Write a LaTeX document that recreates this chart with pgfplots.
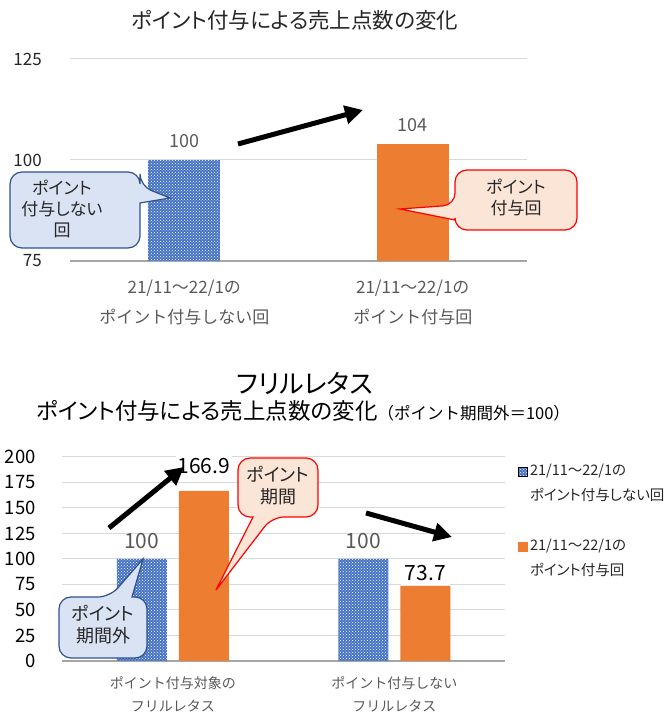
\documentclass[border=0pt]{standalone}
\usepackage{pgfplots}
\pgfplotsset{compat=1.18}
\usepackage{fontspec}
\setmainfont{Noto Sans CJK JP}[RawFeature=+palt]
\newfontfamily\jpfw{Noto Sans CJK JP}
\usetikzlibrary{patterns,arrows.meta}
\definecolor{barblue}{HTML}{4472C4}
\definecolor{barorange}{HTML}{ED7D31}
\definecolor{callblue}{HTML}{DAE3F3}
\definecolor{callblueedge}{HTML}{2F528F}
\definecolor{callorange}{HTML}{FBE5D6}
\definecolor{gridgray}{HTML}{D9D9D9}
\definecolor{axisgray}{HTML}{A6A6A6}
\definecolor{labelgray}{HTML}{595959}
\definecolor{tickdark}{HTML}{262626}
\begin{document}
\begin{tikzpicture}[x=1pt,y=1pt]
\useasboundingbox (0,0) rectangle (668,714);
% ---------------- top chart ----------------
\begin{axis}[
  at={(70pt,453pt)}, anchor=south west, scale only axis,
  width=457pt, height=202pt,
  xmin=-0.5, xmax=1.5, ymin=75, ymax=125,
  xtick={0,1}, ytick={75,100,125},
  xticklabels={{21/11～22/1の\\ポイント付与しない回},{21/11～22/1の\\ポイント付与回}},
  xticklabel style={align=center, anchor=north, inner sep=0pt, yshift=-19pt,
    font=\jpfw\fontsize{17}{30}\selectfont, text=labelgray},
  yticklabel style={anchor=east, inner sep=0pt, xshift=-28pt,
    font=\fontsize{17}{20}\selectfont, text=tickdark},
  /pgf/number format/assume math mode=true,
  major tick length=0pt,
  axis x line=bottom, axis y line=left,
  x axis line style={-, draw=axisgray, line width=1.3pt},
  y axis line style={draw=none},
  ymajorgrids, grid style={draw=gridgray, line width=1pt},
  clip=false,
]
\addplot[ybar, bar width=72pt, bar shift=0pt, draw=none, fill=barblue,
  postaction={pattern=crosshatch dots, pattern color=white}] coordinates {(0,100)};
\addplot[ybar, bar width=72pt, bar shift=0pt, draw=none, fill=barorange] coordinates {(1,104)};
\addplot[draw=none, mark=none, nodes near coords, point meta=y,
  nodes near coords style={font=\fontsize{18}{20}\selectfont, text=labelgray, anchor=center, yshift=19pt}]
  coordinates {(0,100) (1,104)};
\end{axis}
% ---------------- bottom chart ----------------
\begin{axis}[
  at={(62pt,53pt)}, anchor=south west, scale only axis,
  width=443pt, height=204pt,
  xmin=-0.5, xmax=1.5, ymin=0, ymax=200,
  xtick={0,1}, ytick={0,25,...,200},
  xticklabels={{ポイント付与対象の\\フリルレタス},{ポイント付与しない\\フリルレタス}},
  xticklabel style={align=center, anchor=north, inner sep=0pt, yshift=-15pt,
    font=\jpfw\fontsize{14}{23}\selectfont, text=labelgray},
  yticklabel style={anchor=east, inner sep=0pt, xshift=-26pt,
    font=\fontsize{18.5}{20}\selectfont, text=black},
  /pgf/number format/assume math mode=true,
  major tick length=0pt,
  axis x line=bottom, axis y line=left,
  x axis line style={-, draw=axisgray, line width=1.3pt},
  y axis line style={draw=none},
  ymajorgrids, grid style={draw=gridgray, line width=1pt},
  clip=false,
  legend style={at={(rel axis cs:1.028,0.966)}, anchor=north west, draw=none, fill=none,
    inner sep=0pt, row sep=11pt, column sep=3pt,
    nodes={inner sep=0pt, font=\fontsize{14.5}{15}\selectfont, text=tickdark, text height=11pt, text depth=3pt}},
  legend cell align=left,
]
\addplot[ybar, bar width=50pt, bar shift=-31pt, draw=none, fill=barblue,
  postaction={pattern=crosshatch dots, pattern color=white}, forget plot] coordinates {(0,100) (1,100)};
\addplot[ybar, bar width=50pt, bar shift=31pt, draw=none, fill=barorange, forget plot]
  coordinates {(0,166.9) (1,73.7)};
% data labels
\addplot[draw=none, mark=none, nodes near coords, point meta=y, forget plot,
  nodes near coords style={font=\fontsize{21}{22}\selectfont, text=labelgray, anchor=center, xshift=-31pt, yshift=18pt}]
  coordinates {(0,100) (1,100)};
\addplot[draw=none, mark=none, nodes near coords, point meta=y, forget plot,
  nodes near coords style={font=\fontsize{21}{22}\selectfont, text=black, fill=white, inner sep=2pt, anchor=center, xshift=31pt, yshift=25pt}]
  coordinates {(0,166.9)};
\addplot[draw=none, mark=none, nodes near coords, point meta=y, forget plot,
  nodes near coords style={font=\fontsize{21}{22}\selectfont, text=black, fill=white, inner sep=4pt, anchor=center, xshift=31pt, yshift=13pt}]
  coordinates {(1,73.7)};
% legend
\addlegendimage{legend image code/.code={\fill[barblue] (0pt,-5pt) rectangle (9pt,4pt); \fill[pattern=crosshatch dots, pattern color=white] (0pt,-5pt) rectangle (9pt,4pt);}}
\addlegendentry{21/11～22/1の}
\addlegendimage{empty legend}\addlegendentry{ポイント付与しない回}
\addlegendimage{empty legend}\addlegendentry{\rule{0pt}{19pt}}
\addlegendimage{legend image code/.code={\fill[barorange] (0pt,-5pt) rectangle (9pt,4pt);}}
\addlegendentry{21/11～22/1の}
\addlegendimage{empty legend}\addlegendentry{ポイント付与回}
\end{axis}
% ---------------- titles ----------------
\node[font=\fontsize{21.5}{24}\selectfont, text=tickdark] at (295,694) {ポイント付与による売上点数の変化};
\node[font=\fontsize{26}{30}\selectfont, text=black] at (305,331) {フリルレタス};
\node[anchor=west, inner sep=0pt, text=black] at (36,303)
  {\fontsize{22.5}{26}\selectfont ポイント付与による売上点数の変化\jpfw\fontsize{16.5}{20}\selectfont（ポイント期間外＝100）};
% ---------------- callouts ----------------
\draw[fill=callblue, draw=callblueedge, line width=1.2pt]
  (10,504) [rounded corners=12pt] -- (10,542) -- (140,542) -- (140,528) [sharp corners] -- (170,516) -- (140,511)
  [rounded corners=12pt] -- (140,466) -- (10,466) -- cycle;
\node[align=center, font=\fontsize{17}{21}\selectfont, text=tickdark] at (62,505) {ポイント\\付与しない\\回};
\draw[fill=callorange, draw=red, line width=1.2pt]
  (577,514) [rounded corners=12pt] -- (577,544) -- (455,544) -- (455,509) [sharp corners] -- (400,505) -- (455,494)
  [rounded corners=12pt] -- (455,484) -- (577,484) -- cycle;
\node[align=center, font=\fontsize{17}{21}\selectfont, text=tickdark] at (516,517) {ポイント\\付与回};
\draw[fill=callblue, draw=callblueedge, line width=1.2pt]
  (59,86) [rounded corners=12pt] -- (59,117) -- (110,117) [sharp corners] -- (143,155) -- (132,117)
  [rounded corners=12pt] -- (147,117) -- (147,56) -- (59,56) -- cycle;
\node[align=center, font=\fontsize{18}{22}\selectfont, text=tickdark] at (103,89) {ポイント\\期間外};
\draw[fill=callorange, draw=red, line width=1.2pt]
  (238,226) [rounded corners=12pt] -- (238,256) -- (318,256) -- (318,197) -- (272,197) [sharp corners] -- (216,124) -- (253,197)
  [rounded corners=12pt] -- (238,197) -- cycle;
\node[align=center, font=\fontsize{18}{22}\selectfont, text=tickdark] at (278,228) {ポイント\\期間};
% ---------------- arrows ----------------
\draw[line width=5pt, -{Triangle[length=18pt,width=18pt]}] (238,570) -- (363,604);
\draw[line width=5pt, -{Triangle[length=18pt,width=18pt]}] (109,186) -- (184,247);
\draw[line width=5pt, -{Triangle[length=18pt,width=18pt]}] (366,201) -- (452,177);
\end{tikzpicture}
\end{document}
